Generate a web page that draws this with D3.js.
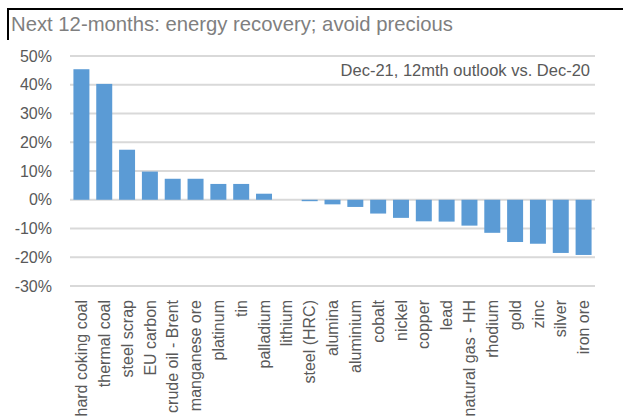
<!DOCTYPE html>
<html>
<head>
<meta charset="utf-8">
<script src="https://cdn.jsdelivr.net/npm/d3@7"></script>
<style>
  body { margin: 0; background: #fff; }
  svg { display: block; font-family: "Liberation Sans", Arial, sans-serif; }
</style>
</head>
<body>
<div id="chart"></div>
<script>
// data (% change, 12mth outlook)
const categories = ["hard coking coal", "thermal coal", "steel scrap", "EU carbon", "crude oil - Brent",
  "manganese ore", "platinum", "tin", "palladium", "lithium", "steel (HRC)", "alumina", "aluminium",
  "cobalt", "nickel", "copper", "lead", "natural gas - HH", "rhodium", "gold", "zinc", "silver", "iron ore"];
const values = [45.4, 40.3, 17.4, 9.8, 7.3, 7.3, 5.5, 5.5, 2.1, 0, -0.5, -1.6, -2.5,
  -4.8, -6.3, -7.5, -7.6, -9.0, -11.5, -14.7, -15.3, -18.5, -19.2];
const yTicks = [50, 40, 30, 20, 10, 0, -10, -20, -30];

const W = 623, H = 419;
const margin = { top: 56, right: 28, bottom: 133, left: 70 };
const width = W - margin.left - margin.right;
const height = H - margin.top - margin.bottom;

const svg = d3.select("#chart").append("svg")
  .attr("width", W)
  .attr("height", H);

// title box
svg.append("path")
  .attr("d", `M8,40 V9 H${W}`)
  .attr("fill", "none")
  .attr("stroke", "#000")
  .attr("stroke-width", 2);

svg.append("text")
  .attr("x", 11)
  .attr("y", 31)
  .attr("fill", "#7f7f7f")
  .attr("font-size", 20.3)
  .text("Next 12-months: energy recovery; avoid precious");

const g = svg.append("g").attr("transform", `translate(${margin.left},${margin.top})`);

const x = d3.scaleBand().domain(categories).range([0, width]).paddingInner(0.3).paddingOuter(0.15);
const y = d3.scaleLinear().domain([-30, 50]).range([height, 0]);

// gridlines
g.selectAll(".grid").data(yTicks).join("line")
  .attr("x1", 0).attr("x2", width)
  .attr("y1", d => y(d)).attr("y2", d => y(d))
  .attr("stroke", "#d9d9d9")
  .attr("stroke-width", 2);

// y axis labels
const yAxis = g.append("g")
  .call(d3.axisLeft(y).tickValues(yTicks).tickFormat(d => d + "%").tickSize(0).tickPadding(18));
yAxis.select(".domain").remove();
yAxis.selectAll("text").attr("fill", "#595959").attr("font-size", 16).attr("font-family", "Liberation Sans, Arial, sans-serif");

// bars
g.selectAll(".bar").data(values).join("rect")
  .attr("x", (d, i) => x(categories[i]))
  .attr("width", x.bandwidth())
  .attr("y", d => y(Math.max(0, d)))
  .attr("height", d => Math.abs(y(d) - y(0)))
  .attr("fill", "#5b9bd5");

// category labels
const xAxis = g.append("g")
  .attr("transform", `translate(0,${height})`)
  .call(d3.axisBottom(x).tickSize(0).tickPadding(0));
xAxis.select(".domain").remove();
xAxis.selectAll("text")
  .attr("fill", "#595959")
  .attr("font-size", 16)
  .attr("font-family", "Liberation Sans, Arial, sans-serif")
  .attr("text-anchor", "end")
  .attr("dy", "0.35em")
  .attr("transform", "translate(0,14) rotate(-90)")
  .attr("x", 0)
  .attr("y", 0);

// annotation
g.append("text")
  .attr("x", width - 5)
  .attr("y", 20)
  .attr("text-anchor", "end")
  .attr("fill", "#595959")
  .attr("font-size", 16.5)
  .text("Dec-21, 12mth outlook vs. Dec-20");
</script>
</body>
</html>
